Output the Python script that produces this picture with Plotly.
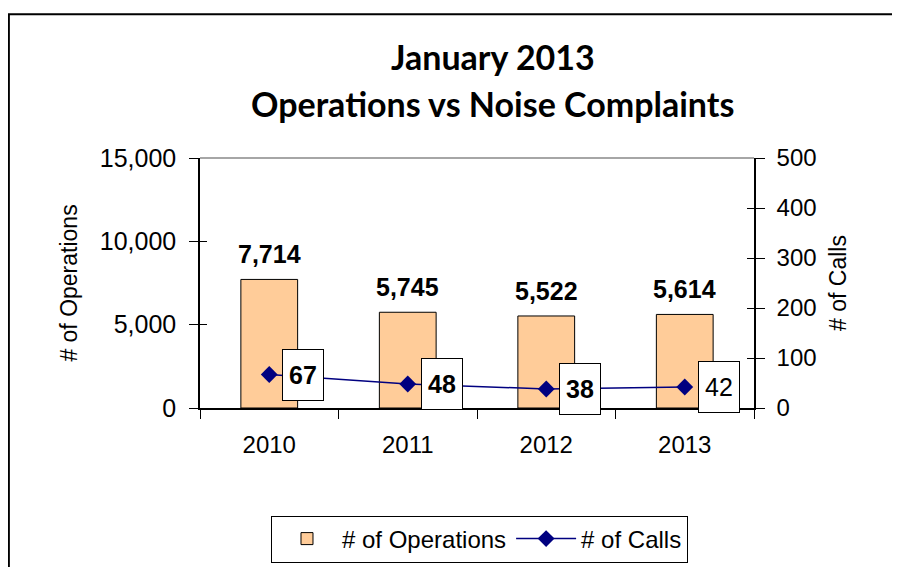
import plotly.graph_objects as go

years = ["2010", "2011", "2012", "2013"]
operations = [7714, 5745, 5522, 5614]
calls = [67, 48, 38, 42]
call_bold = [True, True, True, False]

title_lines = ["January 2013", "Operations vs Noise Complaints"]
y_ticks = [0, 5000, 10000, 15000]
y2_ticks = [0, 100, 200, 300, 400, 500]

FONT = "Liberation Sans, Arial, sans-serif"
fig = go.Figure()

fig.add_trace(go.Bar(
    x=years, y=operations, name="# of Operations",
    marker=dict(color="#FFCC99", line=dict(color="black", width=1)),
    width=0.41,
))
fig.add_trace(go.Scatter(
    x=years, y=calls, name="# of Calls", yaxis="y2",
    mode="lines+markers",
    line=dict(color="#000080", width=1.5),
    marker=dict(symbol="diamond", size=13, color="#000080"),
))

annotations = []
# category axis: annotations addressed by category index
for i, v in enumerate(operations):
    annotations.append(dict(
        x=i, y=v, xref="x", yref="y", text=f"<b>{v:,}</b>", showarrow=False,
        yanchor="bottom", yshift=9,
        font=dict(family=FONT, size=25, color="black"),
    ))
for i, (v, b) in enumerate(zip(calls, call_bold)):
    annotations.append(dict(
        x=i, y=v, xref="x", yref="y2", text=(f"<b>{v}</b>" if b else str(v)),
        showarrow=False, xanchor="left", xshift=13, yanchor="middle",
        width=36, height=46, borderpad=2,
        bgcolor="white", bordercolor="black", borderwidth=1,
        font=dict(family=FONT, size=25, color="black"),
    ))
for txt, ys in zip(title_lines, [102, 55]):
    annotations.append(dict(
        x=0.528, y=1.0, xref="paper", yref="paper", yshift=ys,
        text="<b>" + txt + "</b>", showarrow=False,
        xanchor="center", yanchor="middle",
        font=dict(family="Lato, sans-serif", size=34, color="black"),
    ))

shapes = [
    dict(type="rect", xref="paper", yref="paper",
         x0=-0.345, x1=1.251, y0=-0.7, y1=1.575,
         line=dict(color="black", width=2), layer="below"),
    dict(type="line", xref="paper", yref="paper",
         x0=0, x1=1, y0=1, y1=1, line=dict(color="#888888", width=1.5)),
]

fig.update_layout(
    width=900, height=567,
    margin=dict(l=192, r=154, t=150, b=162),
    paper_bgcolor="white", plot_bgcolor="white",
    font=dict(family=FONT, size=23, color="black"),
    showlegend=True,
    legend=dict(orientation="h", x=0.5045, xanchor="center", y=-0.43, yanchor="top",
                bordercolor="black", borderwidth=1, font=dict(size=24),
                itemwidth=60),
    xaxis=dict(type="category", range=[-0.5, 3.5], showline=True, linecolor="black",
               linewidth=1.5, ticks="outside", ticklen=9, tickson="boundaries",
               tickcolor="black", tickfont=dict(size=24), tickangle=0,
               showgrid=False, automargin=False, ticklabelstandoff=14),
    yaxis=dict(range=[0, 15000], tickvals=y_ticks, tickformat=",", showline=True,
               linecolor="black", linewidth=1.5, ticks="outside", ticklen=9,
               tickcolor="black", showgrid=False, zeroline=False,
               tickfont=dict(size=25), automargin=False, ticklabelstandoff=8,
               title=dict(text="# of Operations", font=dict(size=23), standoff=16)),
    yaxis2=dict(range=[0, 500], tickvals=y2_ticks, overlaying="y", side="right",
                showline=True, linecolor="black", linewidth=1.5, ticks="outside",
                ticklen=9, tickcolor="black", showgrid=False, zeroline=False,
                tickfont=dict(size=24), automargin=False, ticklabelstandoff=7,
                title=dict(text="# of Calls", font=dict(size=23), standoff=14)),
    yaxis3=dict(range=[0, 15000], tickvals=y_ticks, overlaying="y", side="left",
                ticks="inside", ticklen=7, tickcolor="black", showticklabels=False,
                showgrid=False, zeroline=False, showline=False),
    yaxis4=dict(range=[0, 500], tickvals=y2_ticks, overlaying="y", side="right",
                ticks="inside", ticklen=7, tickcolor="black", showticklabels=False,
                showgrid=False, zeroline=False, showline=False),
    annotations=annotations, shapes=shapes,
)

# invisible helper traces that activate the inner cross-tick overlay axes
fig.add_trace(go.Scatter(x=years, y=operations, yaxis="y3", mode="markers",
                         marker=dict(opacity=0), showlegend=False, hoverinfo="skip"))
fig.add_trace(go.Scatter(x=years, y=calls, yaxis="y4", mode="markers",
                         marker=dict(opacity=0), showlegend=False, hoverinfo="skip"))

fig.write_html("out.html")
